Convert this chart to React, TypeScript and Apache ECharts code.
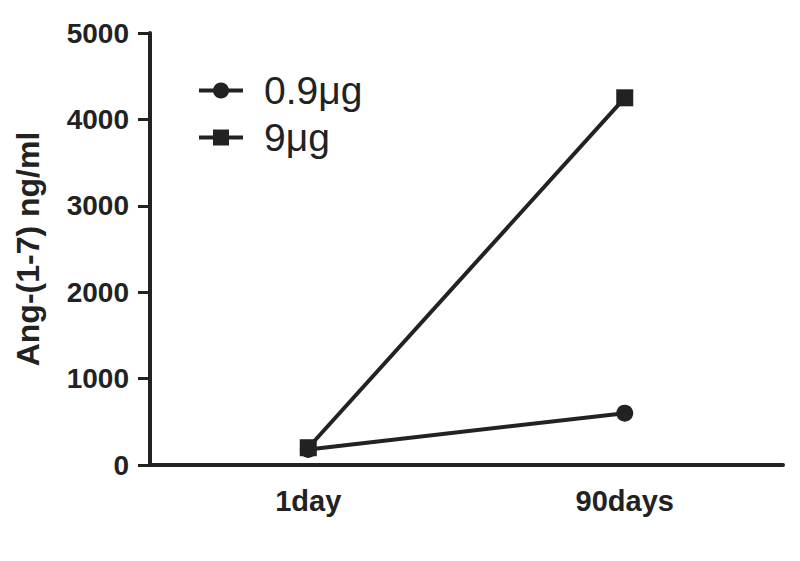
import React, { useEffect, useRef } from "react";
import * as echarts from "echarts";

const categories = ["1day", "90days"];
const seriesLow = [180, 600];
const seriesHigh = [200, 4250];
const seriesNames = ["0.9μg", "9μg"];
const yTicks = { min: 0, max: 5000, interval: 1000 };
const yName = "Ang-(1-7) ng/ml";

export default function App() {
  const ref = useRef<HTMLDivElement>(null);
  useEffect(() => {
    if (!ref.current) return;
    const chart = echarts.init(ref.current, null, { renderer: "svg" });
    const ink = "#222222";
    const font = "Liberation Sans, Arial, sans-serif";
    chart.setOption({
      animation: false,
      backgroundColor: "#ffffff",
      grid: { left: 150, right: 17, top: 33, bottom: 96, containLabel: false },
      legend: {
        orient: "vertical",
        left: 192,
        top: 66,
        itemWidth: 44,
        itemHeight: 20,
        itemGap: 8,
        lineStyle: { width: 4, color: ink },
        textStyle: { fontSize: 39, color: ink, fontFamily: font, padding: [0, 0, 0, 16] },
        data: seriesNames,
      },
      xAxis: {
        type: "category",
        data: categories,
        boundaryGap: true,
        axisLine: { lineStyle: { color: ink, width: 4 } },
        axisTick: { alignWithLabel: true, length: 12, lineStyle: { color: ink, width: 3 } },
        axisLabel: { color: ink, fontSize: 29, fontWeight: "bold", fontFamily: font, margin: 21 },
        splitLine: { show: false },
      },
      yAxis: {
        type: "value",
        min: yTicks.min,
        max: yTicks.max,
        interval: yTicks.interval,
        name: yName,
        nameLocation: "middle",
        nameGap: 106,
        nameRotate: 90,
        nameTextStyle: { color: ink, fontSize: 32, fontWeight: "bold", fontFamily: font },
        axisLine: { show: true, lineStyle: { color: ink, width: 4 } },
        axisTick: { show: true, length: 12, lineStyle: { color: ink, width: 3 } },
        axisLabel: {
          color: ink,
          fontSize: 28,
          fontWeight: "bold",
          fontFamily: font,
          margin: 21,
          formatter: (v: number) => String(v),
        },
        splitLine: { show: false },
      },
      series: [
        {
          name: seriesNames[0],
          type: "line",
          data: seriesLow,
          symbol: "circle",
          symbolSize: 17,
          lineStyle: { color: ink, width: 4 },
          itemStyle: { color: ink },
        },
        {
          name: seriesNames[1],
          type: "line",
          data: seriesHigh,
          symbol: "rect",
          symbolSize: 17,
          lineStyle: { color: ink, width: 4 },
          itemStyle: { color: ink },
        },
      ],
    });
    return () => chart.dispose();
  }, []);
  return <div ref={ref} style={{ width: 800, height: 561, position: "absolute", left: 0, top: 0 }} />;
}
